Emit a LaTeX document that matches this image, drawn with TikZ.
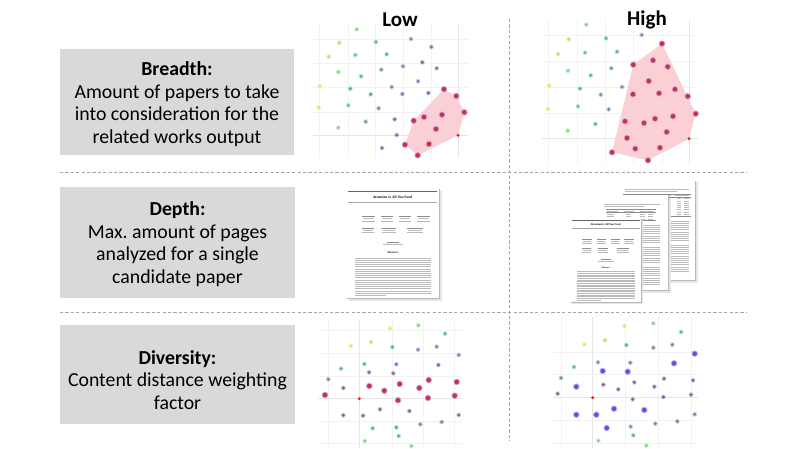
\documentclass[tikz,border=0pt]{standalone}
\usepackage{fontspec}
\setmainfont{Carlito}
\newfontfamily\paperfont{Liberation Serif}
\frenchspacing
\definecolor{boxgray}{HTML}{D9D9D9}
\definecolor{sepgray}{HTML}{A6A6A6}
\definecolor{hullc}{HTML}{FAD0D4}
\definecolor{vy}{HTML}{EDE33A}
\definecolor{vyg}{HTML}{BCDD55}
\definecolor{vg}{HTML}{7FD07A}
\definecolor{vgt}{HTML}{5CC08E}
\definecolor{vt}{HTML}{4DAAA0}
\definecolor{vtb}{HTML}{5695A8}
\definecolor{vb}{HTML}{6282AC}
\definecolor{vbp}{HTML}{7270AC}
\definecolor{vp}{HTML}{7A569A}
\definecolor{redc}{HTML}{C8304C}
\definecolor{redh}{HTML}{CFA6D6}
\definecolor{violc}{HTML}{6652D8}
\definecolor{violh}{HTML}{BEB6F4}
\definecolor{qred}{HTML}{E02828}
\newcommand\sdot[3]{\fill[#3,opacity=0.3] (#1,#2) circle (2.5pt);\fill[#3,opacity=0.9] (#1,#2) circle (1.7pt);}
\newcommand\rdot[2]{\fill[redh] (#1,#2) circle (3.3pt);\fill[redc] (#1,#2) circle (2.3pt);}
\newcommand\vdot[2]{\fill[violh] (#1,#2) circle (3.3pt);\fill[violc] (#1,#2) circle (2.3pt);}
\newcommand\qdot[2]{\fill[qred] (#1,#2) circle (1.7pt);}
\newcommand\parlines[5]{\foreach \ii in {1,...,#4} {\draw[tline] (#1,{#3+(\ii-1)*#5}) -- (#2,{#3+(\ii-1)*#5});}}
\newcommand\ablock[3]{%
  \draw[aline] ({#1-#3/2},{#2}) -- ({#1+#3/2},{#2});
  \draw[tline] ({#1-#3/2+1},{#2+2.3}) -- ({#1+#3/2-1},{#2+2.3});
  \draw[tline] ({#1-#3/2},{#2+4.6}) -- ({#1+#3/2},{#2+4.6});}
% first page of the paper, local size 93 x 110
\newcommand\firstpage[1]{%
  \fill[black!10] (2.5,2.5) rectangle (95.5,112.5);
  \fill[black!28] (1.2,1.2) rectangle (94.2,111.2);
  \fill[white] (0,0) rectangle (93,110);
  \draw[black!60, line width=1.6pt] (2,3.5) -- (91,3.5);
  \node[ptitle] (#1-title) at (46.5,8.8) {Attention Is All You Need};
  \draw[black!35, line width=0.5pt] (2,14) -- (91,14);
  \ablock{22}{28.5}{13}\ablock{41}{28.5}{12}\ablock{59}{28.5}{12}\ablock{77}{28.5}{13}
  \ablock{22}{40}{12}\ablock{43}{40}{14}\ablock{69}{40}{16}
  \draw[aline] (41,54) -- (53,54);
  \draw[tline] (37,56.5) -- (57,56.5);
  \node[pabs] (#1-abs) at (46.5,64.5) {Abstract};
  \parlines{9}{85}{70}{17}{2.2}
  \draw[tline] (9,107.4) -- (40,107.4);}
\newcommand\secondpage{%
  \fill[black!10] (2.5,2.5) rectangle (76.5,97.5);
  \fill[black!28] (1.2,1.2) rectangle (75.2,96.2);
  \fill[white] (0,0) rectangle (74,95);
  \draw[tline] (10,9.5) -- (66,9.5);
  \draw[tline] (10,11.7) -- (50,11.7);
  \draw[black!45,line width=0.4pt] (12,14.5) -- (62,14.5);
  \draw[tline] (13,16) -- (24,16);\draw[tline] (30,16) -- (40,16);\draw[tline] (46,16) -- (60,16);
  \draw[black!45,line width=0.4pt] (12,17.5) -- (62,17.5);
  \foreach \r in {19.5,21.7,23.9} {\draw[tline] (13,\r) -- (20,\r);\draw[tline] (32,\r) -- (37,\r);\draw[tline] (46,\r) -- (51,\r);\draw[tline] (54,\r) -- (59,\r);}
  \draw[black!45,line width=0.4pt] (12,25.5) -- (62,25.5);
  \parlines{8}{66}{30}{9}{2.2}
  \parlines{8}{66}{52}{8}{2.2}
  \parlines{8}{66}{72}{9}{2.2}}
\newcommand\thirdpage{%
  \fill[black!10] (2.5,2.5) rectangle (84.5,102.5);
  \fill[black!28] (1.2,1.2) rectangle (83.2,101.2);
  \fill[white] (0,0) rectangle (82,100);
  \draw[tline] (12,9) -- (76,9);
  \draw[tline] (12,11.2) -- (64,11.2);
  \draw[black!45,line width=0.4pt] (10,13.8) -- (78,13.8);
  \draw[tline] (12,15.3) -- (22,15.3);\draw[tline] (46,15.3) -- (58,15.3);\draw[tline] (62,15.3) -- (76,15.3);
  \draw[black!45,line width=0.4pt] (10,16.8) -- (78,16.8);
  \foreach \r in {18.8,21,23.2,25.4,27.6,29.8,32,34.2} {\draw[tline] (12,\r) -- (22,\r);\draw[tline] (48,\r) -- (56,\r);\draw[tline] (64,\r) -- (68,\r);\draw[tline] (71,\r) -- (76,\r);}
  \draw[black!45,line width=0.4pt] (10,36) -- (78,36);
  \parlines{8}{76}{41}{10}{2.2}
  \parlines{8}{76}{65}{13}{2.2}}
\begin{document}
\begin{tikzpicture}[x=1pt,y=-1pt,
  gbox/.style={rectangle, fill=boxgray, inner sep=0pt},
  btext/.style={align=center, font=\fontsize{19.8}{22.7}\selectfont, inner sep=0pt},
  hdr/.style={font=\fontsize{21}{24}\selectfont\bfseries, inner sep=0pt},
  sep/.style={draw=sepgray, line width=0.8pt, dash pattern=on 3.2pt off 2.2pt},
  gridl/.style={draw=black!5, line width=0.5pt},
  gridd/.style={draw=black!10, line width=0.5pt},
  tline/.style={draw=black!27, line width=0.7pt},
  aline/.style={draw=black!45, line width=0.7pt},
  ptitle/.style={font=\paperfont\bfseries\fontsize{3.6}{4}\selectfont, inner sep=0pt, transform shape},
  pabs/.style={font=\paperfont\bfseries\fontsize{2.8}{3}\selectfont, inner sep=0pt, transform shape}]
\useasboundingbox (0,0) rectangle (797,449);
\fill[white] (0,0) rectangle (797,449);

% ---- left boxes
\node[gbox, minimum width=234pt, minimum height=106pt] (bbox) at (177,102) {};
\node[btext] (btxt) at (177,104) {\textbf{Breadth:}\\Amount of papers to take\\into consideration for the\\related works output};
\node[gbox, minimum width=235pt, minimum height=111pt] (dbox) at (177.5,242.5) {};
\node[btext] (dtxt) at (177.5,244) {\textbf{Depth:}\\Max.\ amount of pages\\analyzed for a single\\candidate paper};
\node[gbox, minimum width=235pt, minimum height=99pt] (vbox) at (177.5,374.5) {};
\node[btext] (vtxt) at (177.5,380) {\textbf{Diversity:}\\Content distance weighting\\factor};

% ---- headers
\node[hdr] (low) at (400,20) {Low};
\node[hdr] (high) at (647,20) {High};

% ---- separators
\coordinate (h1a) at (60,172); \coordinate (h1b) at (746,172);
\coordinate (h2a) at (60,312); \coordinate (h2b) at (746,312);
\coordinate (v1a) at (509,19); \coordinate (v1b) at (509,441);
\draw[sep] (h1a) -- (h1b);
\draw[sep] (h2a) -- (h2b);
\draw[sep] (v1a) -- (v1b);

% ---- breadth low
\foreach \gx in {319,348,375,403,431} {\draw[gridl] (\gx,23) -- (\gx,158);}
\draw[gridd] (458,23) -- (458,158);
\foreach \gy in {39,63,87,112} {\draw[gridl] (313,\gy) -- (468,\gy);}
\draw[gridd] (313,135) -- (468,135);
\fill[hullc] (444,89.3) -- (456.3,96) -- (464.3,112.3) -- (458,135.3) -- (417.7,155.3) -- (405,144.7) -- (413.7,120.7) -- cycle;
\foreach \x/\y/\cc in {356.7/29.3/vg, 339.3/42.7/vyg, 376/42/vt, 411/39/vb, 431.3/47/vbp, 328.7/56.7/vyg, 355.3/55/vgt, 386.7/54.3/vt, 422.3/62.3/vp, 403/66.3/vb, 436.7/68.3/vbp, 338.3/72/vg, 381.3/69.7/vtb, 361/76.3/vt, 418/81.3/vbp, 320/86/vy, 350.3/88.7/vt, 391.7/87/vb, 370.7/94.3/vtb, 402.3/94/vbp, 428.3/93/vp, 318.7/107.7/vy, 348.3/105.3/vgt, 378.7/108.3/vb, 394.7/119.3/vp, 365.7/121.7/vtb, 338.3/127.7/vg, 396.7/135/vp, 382/148/vp}
  {\sdot{\x}{\y}{\cc}}
\foreach \x/\y in {444/89.3, 456.3/96, 464.3/112.3, 442/114.7, 424/117, 413.7/120.7, 436/129, 405/144.7, 429/144, 417.7/155.3}
  {\rdot{\x}{\y}}
\qdot{458}{135.3}

% ---- breadth high
\foreach \gx in {548,577,605,633,662} {\draw[gridl] (\gx,20) -- (\gx,163);}
\draw[gridd] (689,20) -- (689,163);
\foreach \gy in {35,61,87,113} {\draw[gridl] (542,\gy) -- (698,\gy);}
\draw[gridd] (542,138) -- (698,138);
\fill[hullc] (662,43.7) -- (695.7,113.7) -- (689,138.7) -- (648,160.3) -- (612,152.3) -- (633.3,64.7) -- cycle;
\foreach \x/\y/\cc in {586.3/24.7/vg, 568.7/39.3/vyg, 606/38.3/vt, 641.7/35/vb, 558/54/vyg, 585/52.7/vgt, 617/51.7/vt, 568/70.7/vg, 611.3/68.3/vtb, 590.7/75.3/vt, 549/85.7/vy, 580/88.7/vt, 622/87/vb, 600.7/94.7/vtb, 547.7/109/vy, 578/106.3/vgt, 608.7/109.3/vb, 595.3/124/vt, 567.7/130.7/vg}
  {\sdot{\x}{\y}{\cc}}
\foreach \x/\y in {662/43.7, 653/60.3, 633.3/64.7, 667.7/66.7, 648.7/81, 633/94.3, 659/93.3, 675/89.3, 687.7/96.3, 695.7/113.7, 673/116.3, 655/118.7, 644/123, 625/121.3, 666.7/132, 627/138, 635.3/148.7, 660/147.7, 612/152.3, 648/160.3}
  {\rdot{\x}{\y}}
\qdot{689}{138.7}

% ---- depth low: one page
\begin{scope}[shift={(346,188)}]
  \firstpage{plo}
\end{scope}

% ---- depth high: three pages
\begin{scope}[shift={(613,180)}]
  \thirdpage
\end{scope}
\begin{scope}[shift={(594,195)}]
  \secondpage
\end{scope}
\begin{scope}[shift={(570,218)}, scale=0.765]
  \firstpage{phi}
\end{scope}

% ---- diversity low
\foreach \gx in {328,392,423,454} {\draw[gridl] (\gx,320) -- (\gx,448);}
\draw[gridd] (359,320) -- (359,448);
\foreach \gy in {330,353,376,421,443} {\draw[gridl] (318,\gy) -- (462,\gy);}
\draw[gridd] (318,398.7) -- (462,398.7);
\foreach \x/\y/\cc in {418.3/325.3/vg, 390/328.3/vy, 445/333.7/vt, 371/342/vyg, 350.7/346/vy, 392.3/347/vt, 418/349.7/vb, 436.7/346.7/vb, 458.7/355/vbp, 364.3/364/vt, 396.3/364.3/vbp, 438.3/365/vp, 341/368.7/vt, 369/372.3/vp, 393.3/373.3/vp, 328.3/379.3/vb, 343.3/388/vp, 380/409.3/vp, 409.3/411/vp, 343.3/415.3/vp, 363/415.7/vp, 458.7/415/vp, 441.7/422/vbp, 420.3/424.3/vb, 396.3/427.3/vtb, 372.7/428.3/vt, 398.7/436/vt, 364.7/441/vg, 411.3/446/vg}
  {\sdot{\x}{\y}{\cc}}
\foreach \x/\y in {428.7/380, 456.7/382, 399.7/384, 369.3/386, 419.3/388, 384.3/390.7, 325/395, 454.7/395.7, 428/398, 398/400.3}
  {\rdot{\x}{\y}}
\qdot{359.3}{398.7}

% ---- diversity high
\foreach \gx in {561,625,658,691} {\draw[gridl] (\gx,317) -- (\gx,448);}
\draw[gridd] (592.7,317) -- (592.7,448);
\foreach \gy in {352,374,420,443} {\draw[gridl] (553,\gy) -- (698,\gy);}
\draw[gridd] (553,397.7) -- (698,397.7);
\foreach \x/\y/\cc in {653.3/323.3/vg, 624.3/326.3/vy, 681/332/vt, 605/340.3/vyg, 584.3/344.3/vy, 626.3/345/vt, 653.3/347.7/vb, 672.3/344.7/vb, 598/362.3/vtb, 630.3/362.7/vbp, 574/367/vt, 561/378/vb, 664/378.7/vp, 693/380.3/vp, 634.3/382.3/vp, 603.3/384.7/vp, 654.3/386.7/vp, 618.3/389.3/vp, 557.7/393.7/vp, 691/394.7/vp, 663.3/397/vp, 632.7/399.3/vp, 694.7/414.3/vbp, 677.3/421.3/vbp, 655.3/423.7/vb, 630.7/426.7/vtb, 633.3/435.3/vt, 598.3/440.7/vg, 646.3/445.7/vg}
  {\sdot{\x}{\y}{\cc}}
\foreach \x/\y in {694.7/353.7, 674/363.3, 602.7/371, 627.7/371.7, 576.3/386.7, 614/408.7, 644.3/410, 576.3/414.7, 596.3/414.7, 606.7/428}
  {\vdot{\x}{\y}}
\qdot{592.7}{397.7}
\end{tikzpicture}
\end{document}
